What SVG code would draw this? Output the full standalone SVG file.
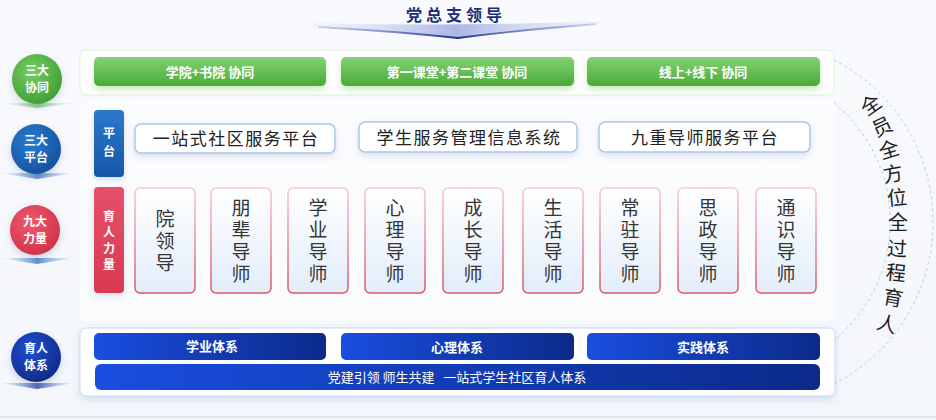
<svg xmlns="http://www.w3.org/2000/svg" width="936" height="420" viewBox="0 0 936 420">
<defs>
  <linearGradient id="bg" x1="0" y1="0" x2="0" y2="1">
    <stop offset="0" stop-color="#f9fafd"/>
    <stop offset="1" stop-color="#f3f6fb"/>
  </linearGradient>
  <linearGradient id="gGreen" x1="0" y1="0" x2="0" y2="1">
    <stop offset="0" stop-color="#84d274"/>
    <stop offset="1" stop-color="#49ab37"/>
  </linearGradient>
  <linearGradient id="gBlueLbl" x1="0" y1="0" x2="0" y2="1">
    <stop offset="0" stop-color="#2d78cc"/>
    <stop offset="1" stop-color="#1656a6"/>
  </linearGradient>
  <linearGradient id="gRedLbl" x1="0" y1="0" x2="0" y2="1">
    <stop offset="0" stop-color="#e6506a"/>
    <stop offset="1" stop-color="#d83a52"/>
  </linearGradient>
  <linearGradient id="gNavy" x1="0" y1="0" x2="1" y2="0">
    <stop offset="0" stop-color="#1a4ee0"/>
    <stop offset="1" stop-color="#0b2a8a"/>
  </linearGradient>
  <linearGradient id="gCard" x1="0" y1="0" x2="0" y2="1">
    <stop offset="0" stop-color="#ffffff"/>
    <stop offset="1" stop-color="#e2edfa"/>
  </linearGradient>
  <linearGradient id="gCardBd" x1="0" y1="0" x2="0" y2="1">
    <stop offset="0" stop-color="#f7c9d2"/>
    <stop offset="1" stop-color="#d95668"/>
  </linearGradient>
  <radialGradient id="cGreen" cx="0.4" cy="0.35" r="0.7">
    <stop offset="0" stop-color="#74cf62"/>
    <stop offset="1" stop-color="#3f9d33"/>
  </radialGradient>
  <radialGradient id="cBlue" cx="0.4" cy="0.35" r="0.7">
    <stop offset="0" stop-color="#2a7ed2"/>
    <stop offset="1" stop-color="#14509c"/>
  </radialGradient>
  <radialGradient id="cRed" cx="0.4" cy="0.35" r="0.7">
    <stop offset="0" stop-color="#ee5a6e"/>
    <stop offset="1" stop-color="#cf3248"/>
  </radialGradient>
  <radialGradient id="cNavy" cx="0.4" cy="0.35" r="0.7">
    <stop offset="0" stop-color="#2050d4"/>
    <stop offset="1" stop-color="#0e2a86"/>
  </radialGradient>
  <linearGradient id="plGreen" x1="0" y1="0" x2="1" y2="0">
    <stop offset="0" stop-color="#8fd47e" stop-opacity="0"/>
    <stop offset="0.5" stop-color="#6cc35a"/>
    <stop offset="1" stop-color="#8fd47e" stop-opacity="0"/>
  </linearGradient>
  <linearGradient id="plBlue" x1="0" y1="0" x2="1" y2="0">
    <stop offset="0" stop-color="#7aa6de" stop-opacity="0"/>
    <stop offset="0.5" stop-color="#3a78c8"/>
    <stop offset="1" stop-color="#7aa6de" stop-opacity="0"/>
  </linearGradient>
  <linearGradient id="plNavy" x1="0" y1="0" x2="1" y2="0">
    <stop offset="0" stop-color="#6f86d6" stop-opacity="0"/>
    <stop offset="0.5" stop-color="#2a44a8"/>
    <stop offset="1" stop-color="#6f86d6" stop-opacity="0"/>
  </linearGradient>
  <linearGradient id="hdBand" x1="0" y1="0" x2="1" y2="0">
    <stop offset="0" stop-color="#dfe4f6" stop-opacity="0.3"/>
    <stop offset="0.5" stop-color="#aab6e6"/>
    <stop offset="1" stop-color="#dfe4f6" stop-opacity="0.3"/>
  </linearGradient>
  <linearGradient id="hdEdge" x1="0" y1="0" x2="1" y2="0">
    <stop offset="0" stop-color="#8e9ad8" stop-opacity="0.4"/>
    <stop offset="0.5" stop-color="#1e2f8e"/>
    <stop offset="1" stop-color="#8e9ad8" stop-opacity="0.4"/>
  </linearGradient>
  <filter id="sh" x="-20%" y="-30%" width="140%" height="170%">
    <feDropShadow dx="0" dy="3" stdDeviation="3" flood-color="#5a7ab8" flood-opacity="0.22"/>
  </filter>
  <filter id="shG" x="-10%" y="-40%" width="120%" height="200%">
    <feDropShadow dx="0" dy="4" stdDeviation="3" flood-color="#5cbc48" flood-opacity="0.3"/>
  </filter>
  <filter id="shC" x="-40%" y="-40%" width="180%" height="180%">
    <feDropShadow dx="0" dy="3" stdDeviation="3" flood-color="#506090" flood-opacity="0.25"/>
  </filter>
</defs>
<style>
  .f{font-family:"Noto Sans CJK SC","Noto Sans",sans-serif;}
  .w{fill:#ffffff;font-weight:bold;font-size:13px;text-anchor:middle;}
  .vt{writing-mode:vertical-rl;text-anchor:middle;}
  .lbl{fill:#ffffff;font-weight:bold;font-size:12px;}
  .ct{fill:#ffffff;font-weight:bold;font-size:12px;text-anchor:middle;}
  .card{fill:url(#gCard);stroke:url(#gCardBd);stroke-width:1.5;}
  .cardt{fill:#353535;font-size:19px;letter-spacing:3px;}
  .plat{fill:#ffffff;stroke:#a9c6ec;stroke-width:1.5;}
  .platt{fill:#222222;font-size:17px;text-anchor:middle;letter-spacing:1.5px;}
  .gbar{fill:url(#gGreen);}
  .nbar{fill:url(#gNavy);}
  .arc{fill:none;stroke:#b9c9f0;stroke-width:1;stroke-dasharray:3 3;}
  .rt{fill:#1e1e1e;font-size:20px;text-anchor:middle;}
</style>

<rect x="0" y="0" width="936" height="420" fill="url(#bg)"/>
<line x1="0" y1="417" x2="936" y2="417" stroke="#dfe3ec" stroke-width="2"/>

<g id="header">
  <path d="M313,23 Q455,27 600,21 L600,24 Q520,30 458,38 Q392,31 313,27 Z" fill="url(#hdBand)"/>
  <path d="M318,27 Q392,31 458,38 Q520,30 596,24" fill="none" stroke="url(#hdEdge)" stroke-width="1.8"/>
  <text class="f" x="456" y="21" text-anchor="middle" font-size="16" font-weight="bold" fill="#1f2d78" letter-spacing="4">党总支领导</text>
</g>

<g id="node-xietong">
  <path d="M0,103 L75,103 L37,108 Z" fill="url(#plGreen)" opacity="0.7"/>
  <circle cx="37" cy="79" r="25" fill="url(#cGreen)" filter="url(#shC)"/>
  <text class="f ct" x="37" y="74.5">三大</text>
  <text class="f ct" x="37" y="92">协同</text>
</g>
<g id="node-pingtai">
  <path d="M0,173 L75,173 L37,179 Z" fill="url(#plBlue)" opacity="0.8"/>
  <circle cx="36" cy="149" r="25" fill="url(#cBlue)" filter="url(#shC)"/>
  <text class="f ct" x="36" y="144.5">三大</text>
  <text class="f ct" x="36" y="162">平台</text>
</g>
<g id="node-liliang">
  <path d="M0,258 L75,258 L37,264 Z" fill="url(#plBlue)" opacity="0.8"/>
  <circle cx="35" cy="230" r="25" fill="url(#cRed)" filter="url(#shC)"/>
  <text class="f ct" x="35" y="225.5">九大</text>
  <text class="f ct" x="35" y="243">力量</text>
</g>
<g id="node-tixi">
  <path d="M0,383 L75,383 L37,389 Z" fill="url(#plNavy)" opacity="0.8"/>
  <circle cx="36" cy="357" r="25" fill="url(#cNavy)" filter="url(#shC)"/>
  <text class="f ct" x="36" y="352.5">育人</text>
  <text class="f ct" x="36" y="370">体系</text>
</g>

<g id="panel-xietong">
  <rect x="80" y="50" width="754" height="45" rx="6" fill="#ffffff" stroke="#dcf0d6" stroke-width="1"/>
  <g filter="url(#shG)">
    <rect class="gbar" x="94" y="57" width="232" height="29" rx="5"/>
    <rect class="gbar" x="341" y="57" width="233" height="29" rx="5"/>
    <rect class="gbar" x="587" y="57" width="233" height="29" rx="5"/>
  </g>
  <text class="f w" x="210" y="76.5">学院+书院 协同</text>
  <text class="f w" x="457" y="76.5">第一课堂+第二课堂 协同</text>
  <text class="f w" x="703" y="76.5">线上+线下 协同</text>
</g>

<rect x="80" y="101" width="755" height="220" rx="6" fill="#ffffff" opacity="0.45"/>

<g id="platforms">
  <rect x="94" y="110" width="30" height="67" rx="4" fill="url(#gBlueLbl)" filter="url(#sh)"/>
  <text class="f vt lbl" x="109" y="145" letter-spacing="6">平台</text>
  <g filter="url(#sh)">
    <rect class="plat" x="135" y="124" width="200" height="29" rx="6"/>
    <rect class="plat" x="359" y="122" width="218" height="30" rx="6"/>
    <rect class="plat" x="599" y="122" width="211" height="30" rx="6"/>
  </g>
  <text class="f platt" x="236" y="145">一站式社区服务平台</text>
  <text class="f platt" x="469" y="143.5">学生服务管理信息系统</text>
  <text class="f platt" x="705" y="143.5">九重导师服务平台</text>
</g>

<g id="forces">
  <rect x="94" y="187" width="30" height="106" rx="4" fill="url(#gRedLbl)" filter="url(#sh)"/>
  <text class="f vt lbl" x="109" y="242" letter-spacing="4">育人力量</text>
</g>

<g id="card-1"><rect class="card" x="135" y="188" width="60" height="105" rx="5"/>
  <text class="f vt cardt" x="165" y="242">院领导</text></g>
<g id="card-2"><rect class="card" x="211" y="188" width="60" height="105" rx="5"/>
  <text class="f vt cardt" x="241" y="242">朋辈导师</text></g>
<g id="card-3"><rect class="card" x="288" y="188" width="60" height="105" rx="5"/>
  <text class="f vt cardt" x="318" y="242">学业导师</text></g>
<g id="card-4"><rect class="card" x="365" y="188" width="60" height="105" rx="5"/>
  <text class="f vt cardt" x="395" y="242">心理导师</text></g>
<g id="card-5"><rect class="card" x="443" y="188" width="60" height="105" rx="5"/>
  <text class="f vt cardt" x="473" y="242">成长导师</text></g>
<g id="card-6"><rect class="card" x="523" y="188" width="60" height="105" rx="5"/>
  <text class="f vt cardt" x="553" y="242">生活导师</text></g>
<g id="card-7"><rect class="card" x="600" y="188" width="60" height="105" rx="5"/>
  <text class="f vt cardt" x="630" y="242">常驻导师</text></g>
<g id="card-8"><rect class="card" x="678" y="188" width="60" height="105" rx="5"/>
  <text class="f vt cardt" x="708" y="242">思政导师</text></g>
<g id="card-9"><rect class="card" x="756" y="188" width="60" height="105" rx="5"/>
  <text class="f vt cardt" x="786" y="242">通识导师</text></g>

<g id="panel-tixi">
  <rect x="80" y="328" width="755" height="68" rx="6" fill="#ffffff" stroke="#c9d8f6" stroke-width="1" filter="url(#sh)"/>
  <rect class="nbar" x="94" y="333" width="232" height="27" rx="5"/>
  <rect class="nbar" x="341" y="333" width="233" height="27" rx="5"/>
  <rect class="nbar" x="587" y="333" width="233" height="27" rx="5"/>
  <rect class="nbar" x="95" y="364" width="725" height="26" rx="6"/>
  <text class="f w" x="212" y="351">学业体系</text>
  <text class="f w" x="457" y="352">心理体系</text>
  <text class="f w" x="703" y="352">实践体系</text>
  <text class="f" x="457" y="382" text-anchor="middle" font-size="13" fill="#ffffff" xml:space="preserve">党建引领 师生共建   一站式学生社区育人体系</text>
</g>

<g id="connectors">
  <path class="arc" d="M834,60 A182,182 0 0 1 834,384"/>
  <path class="arc" d="M834,103 A153,153 0 0 1 834,340"/>
</g>

<g id="ring-text" class="f">
  <text class="rt" transform="translate(871,105) rotate(-35)" y="7">全</text>
  <text class="rt" transform="translate(882,127) rotate(-25)" y="7">员</text>
  <text class="rt" transform="translate(889,150) rotate(-17)" y="7">全</text>
  <text class="rt" transform="translate(893,174) rotate(-10)" y="7">方</text>
  <text class="rt" transform="translate(897,198) rotate(-5)" y="7">位</text>
  <text class="rt" transform="translate(898,223) rotate(0)" y="7">全</text>
  <text class="rt" transform="translate(897,249) rotate(3)" y="7">过</text>
  <text class="rt" transform="translate(896,273) rotate(6)" y="7">程</text>
  <text class="rt" transform="translate(893,298) rotate(10)" y="7">育</text>
  <text class="rt" transform="translate(887,324) rotate(15)" y="7">人</text>
</g>
</svg>
